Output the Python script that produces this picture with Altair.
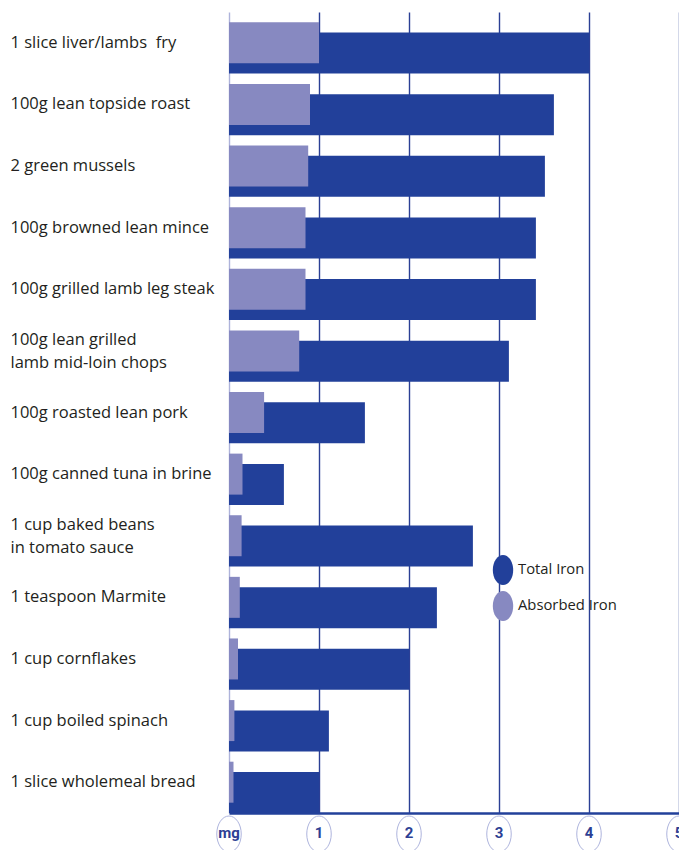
import altair as alt
import pandas as pd

foods = [
    "1 slice liver/lambs\u00a0 fry",
    "100g lean topside roast",
    "2 green mussels",
    "100g browned lean mince",
    "100g grilled lamb leg steak",
    "100g lean grilled\nlamb mid-loin chops",
    "100g roasted lean pork",
    "100g canned tuna in brine",
    "1 cup baked beans\nin tomato sauce",
    "1 teaspoon Marmite",
    "1 cup cornflakes",
    "1 cup boiled spinach",
    "1 slice wholemeal bread",
]
total_iron = [4.0, 3.61, 3.51, 3.41, 3.41, 3.11, 1.51, 0.61, 2.71, 2.31, 2.0, 1.11, 1.0]
absorbed_iron = [1.0, 0.9, 0.88, 0.85, 0.85, 0.78, 0.39, 0.15, 0.14, 0.12, 0.1, 0.06, 0.05]
series = ["Total Iron", "Absorbed Iron"]
tick_values = [0, 1, 2, 3, 4, 5]
tick_labels = ["mg", "1", "2", "3", "4", "5"]

DARK = "#22409a"
LIGHT = "#8789c1"
TEXT = "#231f20"
FONT = "Open Sans"
ELLIPSE = "M-0.68,0 A0.68,1 0 1,0 0.68,0 A0.68,1 0 1,0 -0.68,0 Z"

df_total = pd.DataFrame({"food": foods, "value": total_iron, "series": series[0]})
df_abs = pd.DataFrame({"food": foods, "value": absorbed_iron, "series": series[1]})
df_ticks = pd.DataFrame({"v": tick_values, "lab": tick_labels})

xscale = alt.Scale(domain=[0, 5], nice=False, zero=True)
yscale = alt.Scale(paddingInner=0, paddingOuter=0)
color = alt.Color(
    "series:N",
    scale=alt.Scale(domain=series, range=[DARK, LIGHT]),
    legend=alt.Legend(
        orient="none", legendX=259, legendY=543, title=None,
        symbolType=ELLIPSE, symbolSize=900, symbolStrokeWidth=0,
        labelFont=FONT, labelFontSize=14.8, labelColor=TEXT, labelOffset=0,
        rowPadding=6, padding=0,
    ),
)

xaxis = alt.Axis(
    values=tick_values, labels=False, ticks=False, title=None,
    domain=True, domainColor=DARK, domainWidth=2.5,
    grid=True,
    gridColor={"condition": {"test": "datum.value === 0", "value": "#aeb3da"}, "value": "#2b3f95"},
    gridWidth=1.4,
)
yaxis = alt.Axis(
    title=None, ticks=False, domain=False,
    labelAlign="left", labelPadding=219, labelLimit=300,
    labelFont=FONT, labelFontSize=16.5, labelColor=TEXT, labelLineHeight=23,
    labelExpr="split(datum.label, '\\n')",
    labelOffset={"condition": {"test": "indexof(datum.value, '\\n') >= 0", "value": -11}, "value": 0},
)

total = alt.Chart(df_total).mark_bar(size=41, yOffset=10.3).encode(
    x=alt.X("value:Q", scale=xscale, axis=xaxis),
    y=alt.Y("food:N", sort=foods, scale=yscale, axis=yaxis),
    color=color,
)
absorbed = alt.Chart(df_abs).mark_bar(size=41).encode(
    x=alt.X("value:Q", scale=xscale),
    y=alt.Y("food:N", sort=foods, scale=yscale),
    color=color,
)
rings = alt.Chart(df_ticks).mark_point(
    shape=ELLIPSE, size=1296, filled=False, stroke="#8d96d0", strokeWidth=1
).encode(x=alt.X("v:Q", scale=xscale), y=alt.value(822))
labels = alt.Chart(df_ticks).mark_text(
    font="Roboto", fontSize=15, fontWeight="bold", color="#2d3f94", baseline="middle"
).encode(x=alt.X("v:Q", scale=xscale), y=alt.value(821), text="lab:N")

chart = alt.layer(total, absorbed, rings, labels).properties(
    width=450, height=801,
    autosize=alt.AutoSizeParams(type="none"),
    padding={"left": 229, "top": 12, "right": 0, "bottom": 37},
).configure_view(stroke=None)

chart.save("out.html", embed_options={"renderer": "svg", "actions": False})
